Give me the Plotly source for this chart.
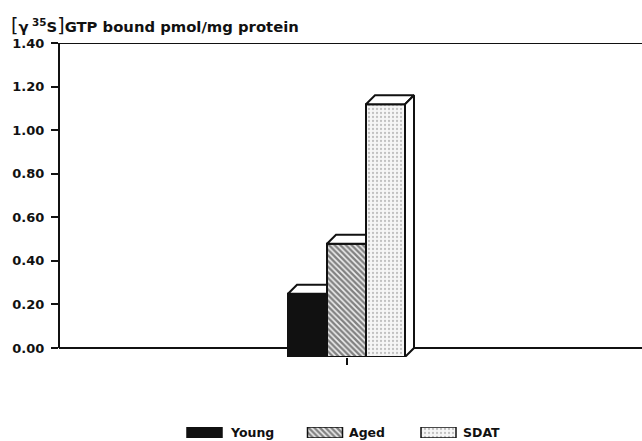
import plotly.graph_objects as go

# ---- data -------------------------------------------------------------
GROUPS = ["Young", "Aged", "SDAT"]
GTP_BOUND = [0.29, 0.52, 1.16]          # [γ35S]GTP bound, pmol/mg protein
Y_TICKS = [0.0, 0.2, 0.4, 0.6, 0.8, 1.0, 1.2, 1.4]
Y_TICK_TEXT = ["0.00", "0.20", "0.40", "0.60", "0.80", "1.00", "1.20", "1.40"]
Y_TITLE = ('<span style="font-size:19px;font-weight:normal">[</span>γ<sup> 35</sup>S'
           '<span style="font-size:19px;font-weight:normal">]</span>GTP bound pmol/mg protein')

# ---- page geometry (pixels) --------------------------------------------
W, H = 642, 441
M_L, M_T = 59, 43
ZERO_PX = 348            # vertical pixel of the y = 0 line
BAR_PX = 39              # width of one bar face
GROUP_CENTER_PX = 346.5  # centre of the bar cluster
DEPTH_PX = 9             # 3-D extrusion (right and up)

plot_w = W - M_L
paper_h = H - M_T
y_max = Y_TICKS[-1]
px_per_y = (ZERO_PX - M_T) / y_max

x_min = -(GROUP_CENTER_PX - M_L) / BAR_PX
x_max = x_min + plot_w / BAR_PX
dx = DEPTH_PX / BAR_PX
dy = DEPTH_PX / px_per_y
floor_px = ZERO_PX + DEPTH_PX   # front edge of the 3-D floor

INK = "#111111"
STYLES = {
    "Young": dict(color=INK, pattern=None),
    "Aged": dict(color="white",
                 pattern=dict(shape="\\", fgcolor=INK, bgcolor="#f0f0f0",
                              size=4, solidity=0.6)),
    "SDAT": dict(color="#f4f4f4",
                 pattern=dict(shape=".", fgcolor="#8c8c8c", bgcolor="#f6f6f6",
                              size=4, solidity=0.25)),
}

fig = go.Figure()

n = len(GROUPS)
positions = [i - (n - 1) / 2 for i in range(n)]

# front faces of the bars (pushed down by the depth so the back edge sits on the value)
for g, v, x in zip(GROUPS, GTP_BOUND, positions):
    st = STYLES[g]
    marker = dict(color=st["color"], line=dict(color=INK, width=2))
    if st["pattern"]:
        marker["pattern"] = st["pattern"]
    fig.add_trace(go.Bar(
        x=[x], y=[v], base=[-dy], width=1, marker=marker,
        showlegend=False, hoverinfo="skip", name=g,
    ))

# top faces and the exposed side face of the extruded bars
for i, (g, v, x) in enumerate(zip(GROUPS, GTP_BOUND, positions)):
    x0, x1 = x - 0.5, x + 0.5
    last = i == n - 1
    if last:
        tx = [x0, x1, x1 + dx, x0 + dx, x0]
    else:
        tx = [x0, x1, x1, x0 + dx, x0]
    ty = [v - dy, v - dy, v, v, v - dy]
    fig.add_trace(go.Scatter(
        x=tx, y=ty, mode="lines", fill="toself", fillcolor="white",
        line=dict(color=INK, width=2),
        showlegend=False, hoverinfo="skip",
    ))
    if last:
        fig.add_trace(go.Scatter(
            x=[x1, x1 + dx, x1 + dx, x1, x1],
            y=[-dy, 0, v, v - dy, -dy],
            mode="lines", fill="toself", fillcolor="white",
            line=dict(color=INK, width=2),
            showlegend=False, hoverinfo="skip",
        ))

# ---- key swatches on their own small axis ------------------------------
LEGEND_CENTERS_PX = [204.5, 325.0, 438.5]
LEGEND_BOX_W = 35
LEGEND_TOP_PX, LEGEND_BOT_PX = 427, 438
LEGEND_TEXT_PX = [228, 347, 461]

for g, cx in zip(GROUPS, LEGEND_CENTERS_PX):
    st = STYLES[g]
    marker = dict(color=st["color"], line=dict(color=INK, width=1.5))
    if st["pattern"]:
        marker["pattern"] = st["pattern"]
    fig.add_trace(go.Bar(
        x=[cx], y=[1], base=[0], width=LEGEND_BOX_W, marker=marker,
        xaxis="x2", yaxis="y2", showlegend=False, hoverinfo="skip",
    ))

annotations = []
for g, tx in zip(GROUPS, LEGEND_TEXT_PX):
    annotations.append(dict(
        text=g, xref="paper", yref="paper",
        x=(tx - M_L) / plot_w, y=(H - (LEGEND_TOP_PX + LEGEND_BOT_PX) / 2) / paper_h,
        xanchor="left", yanchor="middle", showarrow=False,
        font=dict(family="DejaVu Sans", size=12.5, color=INK, weight="bold"),
    ))

annotations.append(dict(
    text=Y_TITLE, xref="paper", yref="paper",
    x=(9 - M_L) / plot_w, y=1 + (M_T - 25) / paper_h,
    xanchor="left", yanchor="middle", showarrow=False,
    font=dict(family="DejaVu Sans", size=14.8, color=INK, weight="bold"),
))

# axis frame: left spine from 0 up, baseline at 0 (behind the bars), top rule
shapes = [
    dict(type="line", xref="paper", yref="y", x0=0, x1=1, y0=0, y1=0,
         line=dict(color=INK, width=2), layer="below"),
    dict(type="line", xref="paper", yref="y", x0=0, x1=1, y0=y_max, y1=y_max,
         line=dict(color=INK, width=2)),
    dict(type="line", xref="paper", yref="y", x0=0, x1=0, y0=0, y1=y_max,
         line=dict(color=INK, width=2)),
]

fig.update_layout(
    width=W, height=H,
    margin=dict(l=M_L, r=0, t=M_T, b=0, pad=0),
    paper_bgcolor="white", plot_bgcolor="white",
    barmode="overlay",
    showlegend=False,
    annotations=annotations,
    shapes=shapes,
    xaxis=dict(
        range=[x_min, x_max], showgrid=False, zeroline=False,
        showline=False, automargin=False,
        tickmode="array", tickvals=[0], ticks="outside", ticklen=7,
        tickwidth=1.5, tickcolor=INK, showticklabels=False,
        layer="below traces",
    ),
    yaxis=dict(
        domain=[(H - floor_px) / paper_h, 1],
        range=[-dy, y_max], showgrid=False, zeroline=False,
        showline=False, automargin=False,
        tickmode="array", tickvals=Y_TICKS, ticktext=Y_TICK_TEXT,
        ticks="outside", ticklen=7, tickwidth=1.5, tickcolor=INK,
        ticklabelstandoff=4,
        tickfont=dict(family="DejaVu Sans", size=13, color=INK, weight="bold"),
    ),
    xaxis2=dict(
        domain=[0, 1], range=[M_L, W], anchor="y2",
        visible=False, fixedrange=True, automargin=False,
    ),
    yaxis2=dict(
        domain=[(H - LEGEND_BOT_PX) / paper_h, (H - LEGEND_TOP_PX) / paper_h],
        range=[0, 1], anchor="x2", visible=False, fixedrange=True,
        automargin=False,
    ),
)

fig.write_html("out.html")
